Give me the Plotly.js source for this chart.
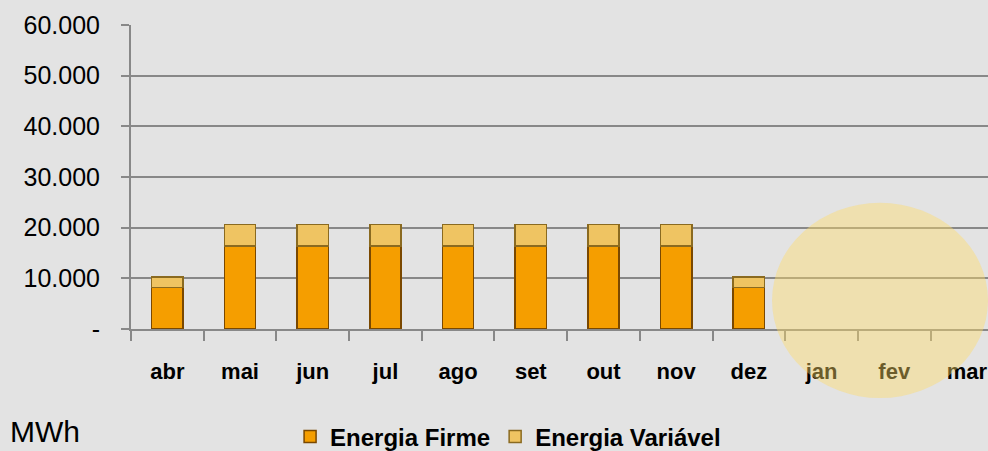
<!DOCTYPE html>
<html>
<head>
<meta charset="utf-8">
<script src="https://cdn.plot.ly/plotly-3.0.1.min.js"></script>
<style>
  html, body { margin: 0; padding: 0; background: #e3e3e3; }
  #chart { width: 988px; height: 451px; }
</style>
</head>
<body>
<div id="chart"></div>
<script>
// meses do ano contratual (abr a mar)
const meses = ['abr', 'mai', 'jun', 'jul', 'ago', 'set', 'out', 'nov', 'dez', 'jan', 'fev', 'mar'];

// MWh por mês
const energiaFirme = [8200, 16400, 16400, 16400, 16400, 16400, 16400, 16400, 8200, null, null, null];
const energiaVariavel = [2100, 4200, 4200, 4200, 4200, 4200, 4200, 4200, 2100, null, null, null];

// eixo y
const yTickVals = [0, 10000, 20000, 30000, 40000, 50000, 60000];
const yTickText = ['-', '10.000', '20.000', '30.000', '40.000', '50.000', '60.000'];

const traces = [
  {
    type: 'bar',
    name: 'Energia Firme',
    x: meses,
    y: energiaFirme,
    marker: { color: '#f59e00', line: { color: '#7a4800', width: 1.5 } },
    hoverinfo: 'x+y'
  },
  {
    type: 'bar',
    name: 'Energia Variável',
    x: meses,
    y: energiaVariavel,
    marker: { color: '#efc462', line: { color: '#8a6a20', width: 1.5 } },
    hoverinfo: 'x+y'
  }
];

const layout = {
  width: 988,
  height: 451,
  barmode: 'stack',
  bargap: 0.57,
  paper_bgcolor: '#e3e3e3',
  plot_bgcolor: '#e3e3e3',
  margin: { l: 131, r: 0, t: 25, b: 122, autoexpand: false },
  font: { family: 'Liberation Sans, Arial, sans-serif', color: '#000' },
  showlegend: true,
  legend: {
    orientation: 'h',
    x: 0.44, xanchor: 'center',
    y: -0.355, yanchor: 'middle',
    font: { size: 24, color: '#000', weight: 'bold' },
    bgcolor: 'rgba(0,0,0,0)',
    itemwidth: 30,
    traceorder: 'normal'
  },
  xaxis: {
    type: 'category',
    range: [-0.5, 11.29],
    tickson: 'boundaries',
    ticks: 'outside',
    ticklen: 10,
    tickwidth: 2,
    tickcolor: '#888',
    showline: true,
    linecolor: '#888',
    linewidth: 2,
    showgrid: false,
    ticklabelstandoff: 22,
    tickfont: { size: 22, weight: 'bold', color: '#000' }
  },
  yaxis: {
    range: [0, 60000],
    tickvals: yTickVals,
    ticktext: yTickText,
    ticks: 'outside',
    ticklen: 8,
    tickwidth: 2,
    tickcolor: '#888',
    showline: true,
    linecolor: '#888',
    linewidth: 2,
    showgrid: true,
    gridcolor: '#888',
    gridwidth: 2,
    zeroline: false,
    ticklabelstandoff: 16,
    tickfont: { size: 25, color: '#000' }
  },
  shapes: [
    {
      type: 'circle',
      xref: 'paper', yref: 'paper',
      x0: 0.748, x1: 1.0,
      y0: -0.227, y1: 0.415,
      fillcolor: '#ffdc66',
      opacity: 0.42,
      line: { width: 0 },
      layer: 'above'
    }
  ],
  annotations: [
    {
      text: 'MWh',
      xref: 'paper', yref: 'paper',
      x: -0.143, xanchor: 'left',
      y: -0.337, yanchor: 'middle',
      showarrow: false,
      font: { size: 30, color: '#000' }
    }
  ]
};

Plotly.newPlot('chart', traces, layout, { displayModeBar: false, staticPlot: true });
</script>
</body>
</html>
